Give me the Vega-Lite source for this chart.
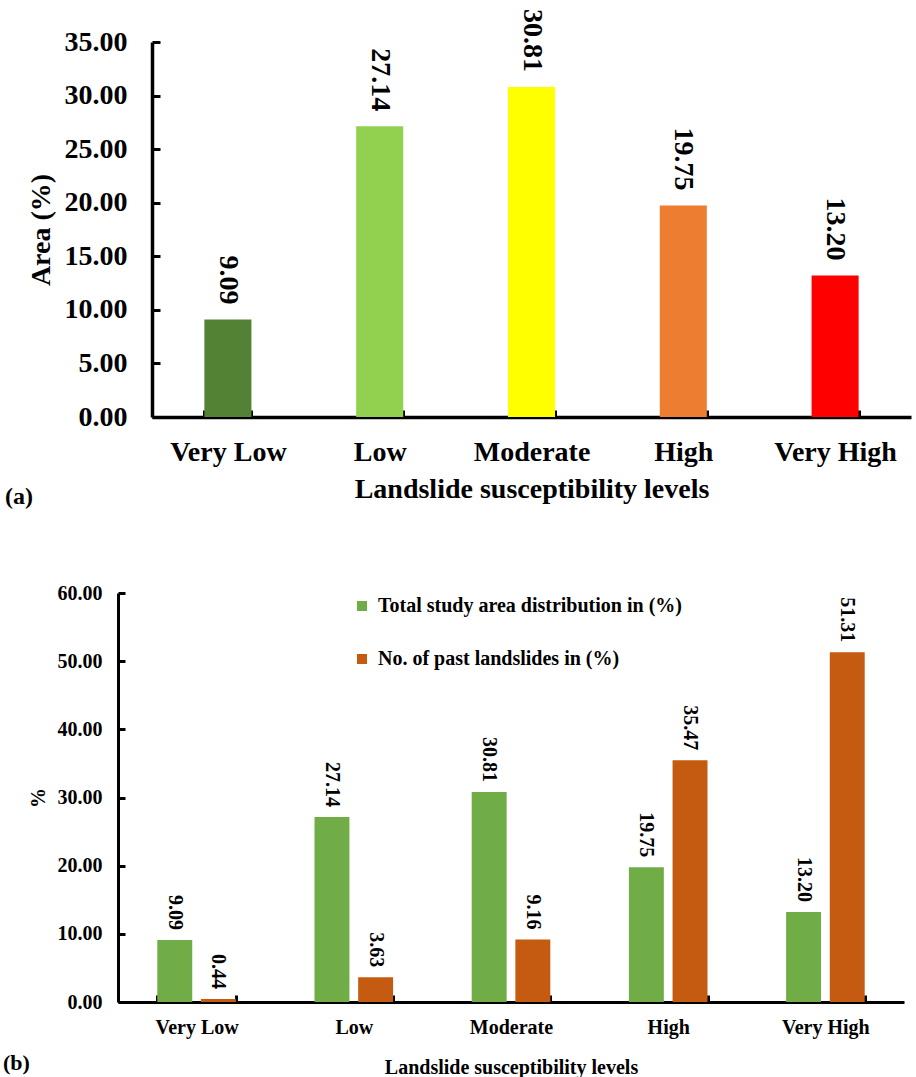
{
  "$schema": "https://vega.github.io/schema/vega-lite/v6.json",
  "background": "white",
  "padding": {"left": 3, "top": 8, "right": 0, "bottom": 0},
  "spacing": 74,
  "resolve": {"scale": {"color": "independent", "x": "independent", "y": "independent", "xOffset": "independent"}},
  "config": {
    "font": "Liberation Serif",
    "view": {"stroke": null},
    "axis": {
      "labelFont": "Liberation Serif", "titleFont": "Liberation Serif",
      "labelFontWeight": "bold", "titleFontWeight": "bold",
      "labelColor": "black", "titleColor": "black",
      "domainColor": "black", "tickColor": "black", "grid": false
    },
    "title": {"font": "Liberation Serif", "fontWeight": "bold", "color": "black"}
  },
  "vconcat": [
    {
      "width": 759,
      "height": 375,
      "title": {"text": "(a)", "orient": "bottom", "anchor": "start", "frame": "bounds", "fontSize": 24, "dx": -22, "dy": -18, "offset": 0},
      "data": {"values": [
        {"level": "Very Low", "area": 9.09},
        {"level": "Low", "area": 27.14},
        {"level": "Moderate", "area": 30.81},
        {"level": "High", "area": 19.75},
        {"level": "Very High", "area": 13.20}
      ]},
      "encoding": {
        "x": {
          "field": "level", "type": "nominal",
          "sort": ["Very Low", "Low", "Moderate", "High", "Very High"],
          "scale": {"paddingInner": 0.69, "paddingOuter": 0.345},
          "axis": {
            "title": "Landslide susceptibility levels", "labelAngle": 0,
            "tickBand": "extent", "tickSize": -7, "tickWidth": 3, "domainWidth": 3.5,
            "labelPadding": 28, "titlePadding": 9, "labelFontSize": 28, "titleFontSize": 28
          }
        },
        "y": {
          "field": "area", "type": "quantitative",
          "scale": {"domain": [0, 35]},
          "axis": {
            "title": "Area (%)", "values": [0, 5, 10, 15, 20, 25, 30, 35], "format": ".2f",
            "tickSize": -8, "tickWidth": 3, "domainWidth": 3.5,
            "labelPadding": 33, "titlePadding": 9, "labelFontSize": 28, "titleFontSize": 28
          }
        }
      },
      "layer": [
        {
          "mark": {"type": "bar"},
          "encoding": {
            "color": {
              "field": "level", "type": "nominal",
              "scale": {"domain": ["Very Low", "Low", "Moderate", "High", "Very High"], "range": ["#548235", "#92D050", "#FFFF00", "#ED7D31", "#FF0000"]},
              "legend": null
            }
          }
        },
        {
          "mark": {"type": "text", "angle": 90, "align": "right", "baseline": "middle", "dx": -15, "fontSize": 28, "fontWeight": "bold", "font": "Liberation Serif", "color": "black"},
          "encoding": {"text": {"field": "area", "type": "quantitative", "format": ".2f"}}
        }
      ]
    },
    {
      "width": 752,
      "height": 409,
      "title": {"text": "(b)", "orient": "bottom", "anchor": "start", "frame": "bounds", "fontSize": 22, "dx": -25, "dy": -24, "offset": 0},
      "data": {"values": [
        {"level": "Very Low", "series": "Total study area distribution in (%)", "value": 9.09},
        {"level": "Very Low", "series": "No. of past landslides in (%)", "value": 0.44},
        {"level": "Low", "series": "Total study area distribution in (%)", "value": 27.14},
        {"level": "Low", "series": "No. of past landslides in (%)", "value": 3.63},
        {"level": "Moderate", "series": "Total study area distribution in (%)", "value": 30.81},
        {"level": "Moderate", "series": "No. of past landslides in (%)", "value": 9.16},
        {"level": "High", "series": "Total study area distribution in (%)", "value": 19.75},
        {"level": "High", "series": "No. of past landslides in (%)", "value": 35.47},
        {"level": "Very High", "series": "Total study area distribution in (%)", "value": 13.20},
        {"level": "Very High", "series": "No. of past landslides in (%)", "value": 51.31}
      ]},
      "encoding": {
        "x": {
          "field": "level", "type": "nominal",
          "sort": ["Very Low", "Low", "Moderate", "High", "Very High"],
          "scale": {"range": [-34, 752], "paddingInner": 0.5, "paddingOuter": 0.25},
          "axis": {
            "title": "Landslide susceptibility levels", "labelAngle": 0,
            "tickBand": "extent", "tickSize": -7, "tickWidth": 3, "domainWidth": 3,
            "labelPadding": 22, "titlePadding": 20, "labelFontSize": 20, "titleFontSize": 20
          }
        },
        "xOffset": {
          "field": "series", "type": "nominal",
          "sort": ["Total study area distribution in (%)", "No. of past landslides in (%)"],
          "scale": {"paddingInner": 0.2, "paddingOuter": 0}
        },
        "y": {
          "field": "value", "type": "quantitative",
          "scale": {"domain": [0, 60]},
          "axis": {
            "title": "%", "values": [0, 10, 20, 30, 40, 50, 60], "format": ".2f", "offset": 34,
            "tickSize": -7, "tickWidth": 3, "domainWidth": 3,
            "labelPadding": 23, "titlePadding": 9, "labelFontSize": 20, "titleFontSize": 20
          }
        }
      },
      "layer": [
        {
          "mark": {"type": "bar"},
          "encoding": {
            "color": {
              "field": "series", "type": "nominal",
              "sort": ["Total study area distribution in (%)", "No. of past landslides in (%)"],
              "scale": {"domain": ["Total study area distribution in (%)", "No. of past landslides in (%)"], "range": ["#70AD47", "#C55A11"]},
              "legend": {
                "title": null, "orient": "none", "legendX": 200, "legendY": 3,
                "symbolType": "square", "symbolSize": 100, "symbolStrokeWidth": 0,
                "labelFont": "Liberation Serif", "labelFontWeight": "bold", "labelFontSize": 20, "labelColor": "black",
                "labelLimit": 0, "labelOffset": 6, "rowPadding": 33
              }
            }
          }
        },
        {
          "mark": {"type": "text", "angle": 90, "align": "right", "baseline": "middle", "dx": -10, "fontSize": 20, "fontWeight": "bold", "font": "Liberation Serif", "color": "black"},
          "encoding": {"text": {"field": "value", "type": "quantitative", "format": ".2f"}}
        }
      ]
    }
  ]
}
